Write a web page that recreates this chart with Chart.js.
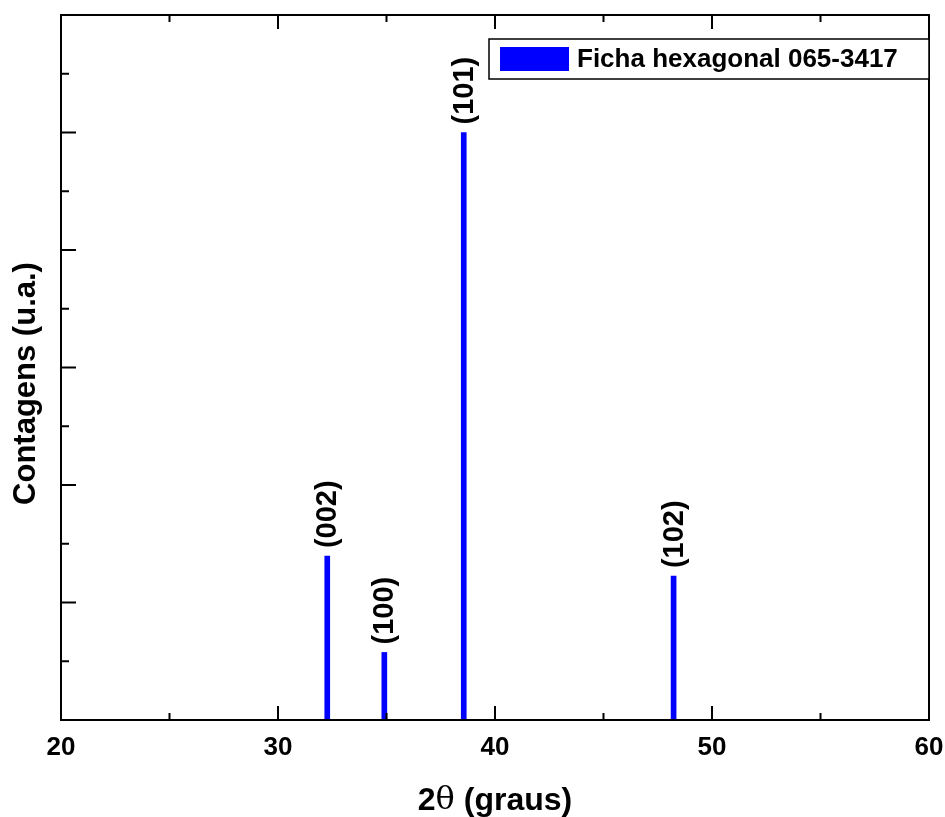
<!DOCTYPE html>
<html>
<head>
<meta charset="utf-8">
<title>DRX - ficha hexagonal 065-3417</title>
<script src="https://cdn.jsdelivr.net/npm/chart.js@4.4.1/dist/chart.umd.min.js"></script>
<style>
    body { margin: 0; background: #fff; }
    #box { width: 945px; height: 817px; }
</style>
</head>
<body>
<div id="box"><canvas id="drxChart"></canvas></div>
<script>
// picos da ficha (2theta em graus, intensidade relativa)
var posicoes = [32.27, 34.90, 38.56, 48.23];
var intensidades = [27.9, 11.5, 100, 24.5];
var planos = ['(002)', '(100)', '(101)', '(102)'];
var nomeFicha = 'Ficha hexagonal 065-3417';

var fonte = '"Liberation Sans", Arial, sans-serif';

document.addEventListener("DOMContentLoaded", function () {

var pontos = posicoes.map(function (x, i) {
    return { x: x, y: intensidades[i] };
});

// moldura + ticks para dentro (maiores a cada 10 graus / 20 u.a.)
var moldura = {
    id: 'moldura',
    afterDatasetsDraw: function (chart) {
        var ctx = chart.ctx;
        var a = chart.chartArea;
        var sx = chart.scales.x;
        var sy = chart.scales.y;
        ctx.save();
        ctx.strokeStyle = '#000';
        ctx.lineWidth = 2;
        ctx.beginPath();
        sx.ticks.forEach(function (t) {
            var px = sx.getPixelForValue(t.value);
            var len = (t.value % 10 === 0) ? 14 : 7;
            ctx.moveTo(px, a.bottom);
            ctx.lineTo(px, a.bottom - len);
            ctx.moveTo(px, a.top);
            ctx.lineTo(px, a.top + len);
        });
        sy.ticks.forEach(function (t) {
            var py = sy.getPixelForValue(t.value);
            var len = (t.value % 20 === 0) ? 15 : 8;
            ctx.moveTo(a.left, py);
            ctx.lineTo(a.left + len, py);
        });
        ctx.stroke();
        ctx.strokeRect(a.left, a.top, a.right - a.left, a.bottom - a.top);
        ctx.restore();
    }
};

// indices (hkl) em pe sobre cada pico
var rotulos = {
    id: 'rotulos',
    afterDatasetsDraw: function (chart) {
        var ctx = chart.ctx;
        var meta = chart.getDatasetMeta(0);
        ctx.save();
        ctx.fillStyle = '#000';
        ctx.font = 'bold 29px ' + fonte;
        ctx.textAlign = 'left';
        ctx.textBaseline = 'middle';
        meta.data.forEach(function (bar, i) {
            ctx.save();
            ctx.translate(bar.x + 1, bar.y - 8);
            ctx.rotate(-Math.PI / 2);
            ctx.fillText(planos[i], 0, 0);
            ctx.restore();
        });
        ctx.restore();
    }
};

// titulos dos eixos (theta em fonte serifada, como no Origin)
var titulos = {
    id: 'titulos',
    afterDraw: function (chart) {
        var ctx = chart.ctx;
        var a = chart.chartArea;
        ctx.save();
        ctx.fillStyle = '#000';
        ctx.textBaseline = 'middle';

        var partes = [
            { t: '2', f: 'bold 32px ' + fonte },
            { t: '\u03b8', f: '32px "DejaVu Serif", "Liberation Serif", serif' },
            { t: ' (graus)', f: 'bold 32px ' + fonte }
        ];
        var total = 0;
        partes.forEach(function (p) {
            ctx.font = p.f;
            p.w = ctx.measureText(p.t).width;
            total += p.w;
        });
        var x = (a.left + a.right) / 2 - total / 2;
        ctx.textAlign = 'left';
        partes.forEach(function (p) {
            ctx.font = p.f;
            ctx.fillText(p.t, x, 801);
            x += p.w;
        });

        ctx.translate(26, (a.top + a.bottom) / 2 + 16);
        ctx.rotate(-Math.PI / 2);
        ctx.textAlign = 'center';
        ctx.font = 'bold 31px ' + fonte;
        ctx.fillText('Contagens (u.a.)', 0, 0);
        ctx.restore();
    }
};

// legenda com caixa no canto superior direito
var legendaCaixa = {
    id: 'legendaCaixa',
    afterDraw: function (chart) {
        var ctx = chart.ctx;
        var a = chart.chartArea;
        var w = 440, h = 40;
        var x0 = a.right - w, y0 = a.top + 24;
        ctx.save();
        ctx.fillStyle = '#fff';
        ctx.fillRect(x0, y0, w, h);
        ctx.strokeStyle = '#000';
        ctx.lineWidth = 1.5;
        ctx.strokeRect(x0, y0, w, h);
        ctx.fillStyle = chart.data.datasets[0].backgroundColor;
        ctx.fillRect(x0 + 11, y0 + 8, 69, 24);
        ctx.fillStyle = '#000';
        ctx.font = 'bold 26px ' + fonte;
        ctx.textAlign = 'left';
        ctx.textBaseline = 'middle';
        ctx.fillText(chart.data.datasets[0].label, x0 + 88, y0 + h / 2 + 1);
        ctx.restore();
    }
};

var ctx = document.getElementById('drxChart').getContext('2d');
var drxChart = new Chart(ctx, {
    type: 'bar',
    data: {
        datasets: [{
            label: nomeFicha,
            data: pontos,
            backgroundColor: '#0000FF',
            borderWidth: 0,
            barThickness: 5
        }]
    },
    options: {
        responsive: true,
        maintainAspectRatio: false,
        animation: false,
        layout: { padding: { top: 15, right: 16, left: 0, bottom: 0 } },
        plugins: {
            legend: { display: false },
            tooltip: { enabled: false }
        },
        scales: {
            x: {
                type: 'linear',
                min: 20,
                max: 60,
                offset: false,
                grid: { display: false, drawTicks: false },
                border: { display: false },
                ticks: {
                    stepSize: 5,
                    autoSkip: false,
                    maxRotation: 0,
                    padding: 12,
                    color: '#000',
                    font: { family: fonte, size: 26, weight: 'bold' },
                    callback: function (v) { return v % 10 === 0 ? v : ''; }
                },
                afterFit: function (scale) {
                    scale.height = 97;
                    scale.paddingLeft = 0;
                    scale.paddingRight = 0;
                }
            },
            y: {
                min: 0,
                max: 120,
                grid: { display: false, drawTicks: false },
                border: { display: false },
                ticks: { stepSize: 10, display: false },
                afterFit: function (scale) { scale.width = 61; }
            }
        }
    },
    plugins: [moldura, rotulos, titulos, legendaCaixa]
});

});
</script>
</body>
</html>
